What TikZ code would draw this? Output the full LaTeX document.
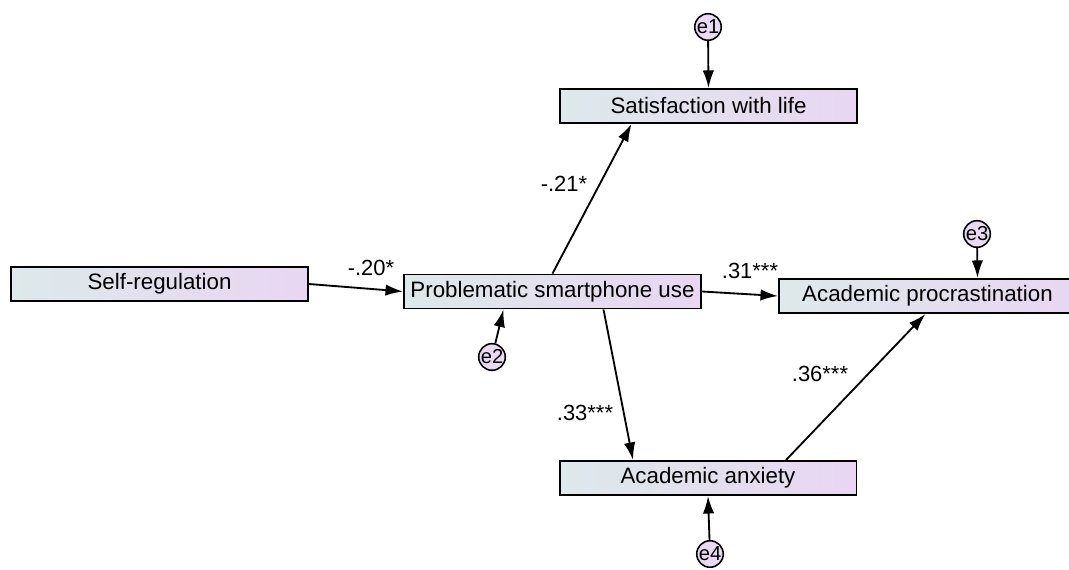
\documentclass[tikz,border=0pt]{standalone}
\usepackage{fontspec}
\setmainfont{Liberation Sans}
\usepackage{tikz}
\usetikzlibrary{calc}
\usetikzlibrary{arrows.meta}
\definecolor{boxleft}{HTML}{DDE9EA}
\definecolor{boxright}{HTML}{E9D6F2}
\definecolor{errfill}{HTML}{EAD9F3}
\tikzset{
  var/.style={draw, line width=1.1pt, left color=boxleft, right color=boxright,
    minimum width=5.94cm, minimum height=0.68cm, inner sep=0pt,
    font=\fontsize{12.7}{15}\selectfont},
  err/.style={circle, draw, line width=0.9pt, fill=errfill, minimum size=0.52cm,
    inner sep=0pt, font=\fontsize{11.5}{13}\selectfont},
  path/.style={line width=1.05pt, -{Latex[length=10pt, width=6.5pt]}},
  coef/.style={font=\fontsize{12.5}{15}\selectfont}
}
\begin{document}
\begin{tikzpicture}[x=0.02cm, y=-0.02cm]
      \useasboundingbox (0,0) rectangle (1069,570);
      % observed variables
      \node[var] (SR) at (159.5,284) {Self-regulation};
      \node[var] (PSU) at (552.5,291.5) {Problematic smartphone use};
      \node[var] (SWL) at (708.5,106) {Satisfaction with life};
      \node[var] (AP) at (927.5,296) {Academic procrastination};
      \node[var] (AA) at (708,478) {Academic anxiety};
      % error terms
      \node[err] (e1) at (708,27) {e1};
      \node[err] (e2) at (492,357) {e2};
      \node[err] (e3) at (977,234) {e3};
      \node[err] (e4) at (710,554) {e4};
      % paths
      \draw[path] (SR.east) -- (PSU.west);
      \draw[path] (PSU.north) -- ($(SWL.south)+(-77,0)$);
      \draw[path] (PSU.east) -- (AP.west);
      \draw[path] ($(PSU.south)+(51,0)$) -- ($(AA.north)+(-75,0)$);
      \draw[path] ($(AA.north)+(78,0)$) -- ($(AP.south)+(-2,0)$);
      \draw[path] (e1) -- (SWL.north);
      \draw[path] (e2) -- ($(PSU.south)+(-49,0)$);
      \draw[path] (e3) -- ($(AP.north)+(50,0)$);
      \draw[path] (e4) -- (AA.south);
      % coefficients
      \node[coef] (c1) at (371,268) {-.20*};
      \node[coef] (c2) at (564,184) {-.21*};
      \node[coef] (c3) at (750,271) {.31***};
      \node[coef] (c4) at (585,413) {.33***};
      \node[coef] (c5) at (820,374) {.36***};
\end{tikzpicture}
\end{document}
